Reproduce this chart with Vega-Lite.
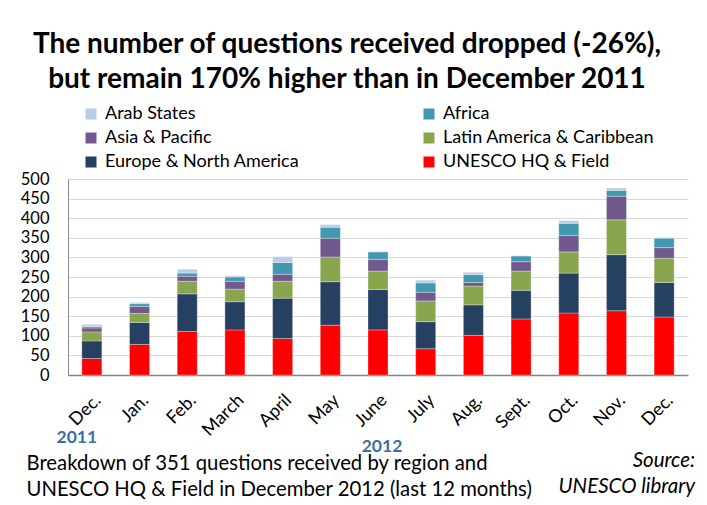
{
  "$schema": "https://vega.github.io/schema/vega-lite/v6.json",
  "autosize": {"type": "none"},
  "width": 620,
  "height": 196,
  "padding": {"left": 68, "top": 179, "right": 19, "bottom": 130},
  "background": "white",
  "title": {
    "text": ["The number of questions received dropped (-26%),", "but remain 170% higher than in December 2011"],
    "font": "Lato",
    "fontSize": 28,
    "fontWeight": "bold",
    "color": "black",
    "anchor": "middle",
    "frame": "group",
    "dx": -31,
    "lineHeight": 35,
    "offset": 11
  },
  "config": {
    "font": "Lato",
    "view": {"stroke": null}
  },
  "layer": [
    {
      "data": {
        "values": [
          {"m": "Dec. 2011", "UNESCO HQ & Field": 42, "Europe & North America": 45, "Latin America & Caribbean": 23, "Asia & Pacific": 10, "Africa": 4, "Arab States": 5},
          {"m": "Jan. 2012", "UNESCO HQ & Field": 78, "Europe & North America": 56, "Latin America & Caribbean": 23, "Asia & Pacific": 18, "Africa": 7, "Arab States": 3},
          {"m": "Feb. 2012", "UNESCO HQ & Field": 111, "Europe & North America": 96, "Latin America & Caribbean": 32, "Asia & Pacific": 13, "Africa": 8, "Arab States": 10},
          {"m": "March 2012", "UNESCO HQ & Field": 115, "Europe & North America": 72, "Latin America & Caribbean": 32, "Asia & Pacific": 20, "Africa": 11, "Arab States": 3},
          {"m": "April 2012", "UNESCO HQ & Field": 93, "Europe & North America": 103, "Latin America & Caribbean": 43, "Asia & Pacific": 18, "Africa": 30, "Arab States": 15},
          {"m": "May 2012", "UNESCO HQ & Field": 127, "Europe & North America": 111, "Latin America & Caribbean": 63, "Asia & Pacific": 48, "Africa": 28, "Arab States": 7},
          {"m": "June 2012", "UNESCO HQ & Field": 115, "Europe & North America": 103, "Latin America & Caribbean": 47, "Asia & Pacific": 30, "Africa": 19, "Arab States": 1},
          {"m": "July 2012", "UNESCO HQ & Field": 67, "Europe & North America": 69, "Latin America & Caribbean": 53, "Asia & Pacific": 22, "Africa": 24, "Arab States": 7},
          {"m": "Aug. 2012", "UNESCO HQ & Field": 101, "Europe & North America": 78, "Latin America & Caribbean": 48, "Asia & Pacific": 9, "Africa": 20, "Arab States": 6},
          {"m": "Sept. 2012", "UNESCO HQ & Field": 143, "Europe & North America": 73, "Latin America & Caribbean": 49, "Asia & Pacific": 24, "Africa": 15, "Arab States": 0},
          {"m": "Oct. 2012", "UNESCO HQ & Field": 158, "Europe & North America": 102, "Latin America & Caribbean": 54, "Asia & Pacific": 42, "Africa": 31, "Arab States": 7},
          {"m": "Nov. 2012", "UNESCO HQ & Field": 164, "Europe & North America": 143, "Latin America & Caribbean": 89, "Asia & Pacific": 60, "Africa": 15, "Arab States": 6},
          {"m": "Dec. 2012", "UNESCO HQ & Field": 148, "Europe & North America": 88, "Latin America & Caribbean": 62, "Asia & Pacific": 27, "Africa": 24, "Arab States": 2}
        ]
      },
      "transform": [
        {"fold": ["UNESCO HQ & Field", "Europe & North America", "Latin America & Caribbean", "Asia & Pacific", "Africa", "Arab States"], "as": ["region", "n"]},
        {"calculate": "indexof(['UNESCO HQ & Field','Europe & North America','Latin America & Caribbean','Asia & Pacific','Africa','Arab States'], datum.region)", "as": "o"}
      ],
      "mark": {"type": "bar", "stroke": "white", "strokeWidth": 0.6, "strokeOpacity": 0.5},
      "encoding": {
        "x": {
          "field": "m",
          "type": "nominal",
          "sort": null,
          "scale": {"paddingInner": 0.58, "paddingOuter": 0.29},
          "axis": {
            "labelExpr": "split(datum.label, ' ')[0]",
            "labelAngle": -45,
            "labelFontSize": 18,
            "labelColor": "black",
            "labelPadding": 16,
            "ticks": false,
            "domainColor": "#868686",
            "domainWidth": 1.5,
            "title": ["Breakdown of 351 questions received by region and", "UNESCO HQ & Field in December 2012 (last 12 months)"],
            "titleFontSize": 20.3,
            "titleFontWeight": "normal",
            "titleColor": "black",
            "titleAnchor": "start",
            "titleAlign": "left",
            "titleBaseline": "alphabetic",
            "titleLineHeight": 26,
            "titleX": -42,
            "titleY": 94
          }
        },
        "y": {
          "field": "n",
          "type": "quantitative",
          "stack": "zero",
          "scale": {"domain": [0, 500], "nice": false},
          "axis": {
            "values": [0, 50, 100, 150, 200, 250, 300, 350, 400, 450, 500],
            "labelOverlap": false,
            "labelFontSize": 16.5,
            "labelColor": "black",
            "labelPadding": 19,
            "ticks": false,
            "domainColor": "#868686",
            "gridColor": "#d9d9d9",
            "title": null
          }
        },
        "color": {
          "field": "region",
          "type": "nominal",
          "scale": {
            "domain": ["Arab States", "Africa", "Asia & Pacific", "Latin America & Caribbean", "Europe & North America", "UNESCO HQ & Field"],
            "range": ["#B9CDE5", "#4198AF", "#71588F", "#89A54E", "#254061", "#FF0000"]
          },
          "legend": {
            "title": null,
            "orient": "none",
            "direction": "horizontal",
            "legendX": 14,
            "legendY": -74,
            "columns": 2,
            "columnPadding": 120,
            "rowPadding": 6,
            "symbolType": "square",
            "symbolSize": 121,
            "symbolStrokeWidth": 0,
            "labelFontSize": 18,
            "labelColor": "black",
            "labelOffset": 5,
            "labelLimit": 400
          }
        },
        "order": {"field": "o", "type": "quantitative"}
      }
    },
    {
      "data": {"values": [{"m": "Dec. 2011", "t": "2011"}]},
      "mark": {"type": "text", "fontSize": 17.5, "fontWeight": "bold", "color": "#3A6EA5", "dx": -15, "dy": 166, "baseline": "alphabetic"},
      "encoding": {"x": {"field": "m", "type": "nominal", "sort": null}, "text": {"field": "t"}}
    },
    {
      "data": {"values": [{"m": "June 2012", "t": "2012"}]},
      "mark": {"type": "text", "fontSize": 17.5, "fontWeight": "bold", "color": "#3A6EA5", "dx": 4, "dy": 175, "baseline": "alphabetic"},
      "encoding": {"x": {"field": "m", "type": "nominal", "sort": null}, "text": {"field": "t"}}
    },
    {
      "data": {"values": [{"m": "Dec. 2012", "t": "Source:\nUNESCO library"}]},
      "mark": {"type": "text", "fontSize": 20.5, "fontStyle": "italic", "color": "black", "align": "right", "dx": 31, "dy": 190, "baseline": "alphabetic", "lineBreak": "\n", "lineHeight": 26},
      "encoding": {"x": {"field": "m", "type": "nominal", "sort": null}, "text": {"field": "t"}}
    }
  ]
}
